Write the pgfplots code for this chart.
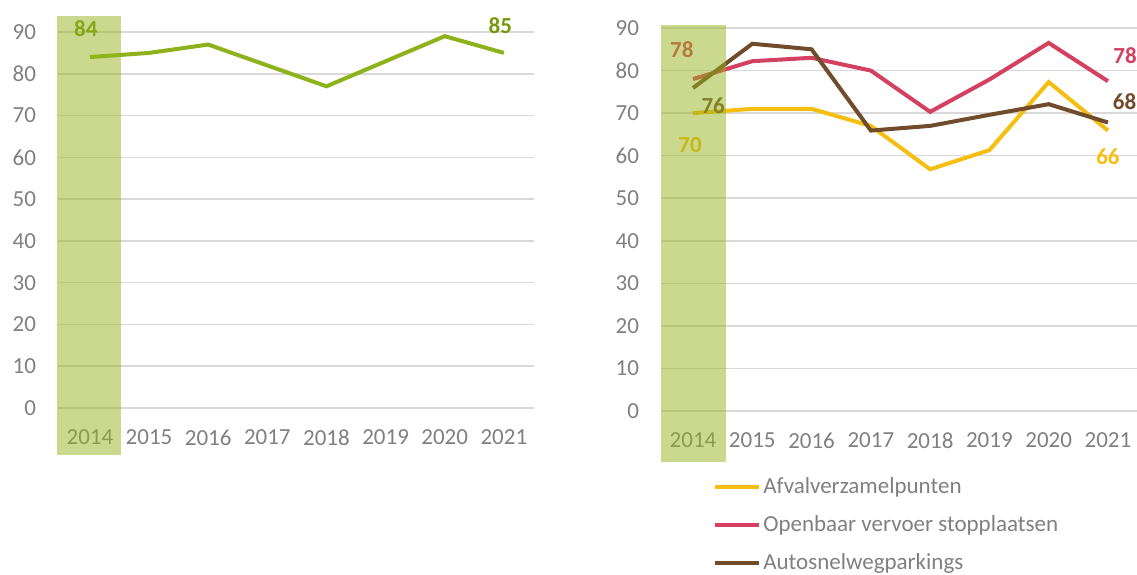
\documentclass[border=0pt]{standalone}
\usepackage{fontspec}
\setmainfont{Carlito}
\usepackage{pgfplots}
\pgfplotsset{compat=1.18}
\definecolor{lgreen}{RGB}{141,178,27}
\definecolor{labgreen}{RGB}{118,152,12}
\definecolor{bandcol}{RGB}{150,180,30}
\definecolor{cyellow}{RGB}{247,190,18}
\definecolor{cred}{RGB}{212,64,95}
\definecolor{cbrown}{RGB}{112,76,44}
\definecolor{tickgray}{RGB}{128,128,128}
\definecolor{gridgray}{RGB}{217,217,217}
\pgfplotsset{
  mybase/.style={
    scale only axis, width=238pt,
    xmin=-0.54, ymin=0, ymax=90,
    ytick={0,10,...,90}, xtick={0,1,2,3,4,5,6,7},
    xticklabels={2014,2015,2016,2017,2018,2019,2020,2021},
    axis line style={draw=none}, major tick length=0pt,
    ymajorgrids, grid style={gridgray, line width=0.8pt},
    tick label style={font=\fontsize{11.5}{13}\selectfont, text=tickgray},
    /pgf/number format/assume math mode=true,
    yticklabel style={xshift=-7.5pt},
    xticklabel style={yshift=-7.5pt},
    clip=false, set layers,
  }
}
\begin{document}
\begin{tikzpicture}
% Left chart
\begin{axis}[mybase, at={(29pt,83pt)}, anchor=south west, height=188pt, xmax=7.51]
\addplot[lgreen, line width=2pt] coordinates {(0,84)(1,85)(2,87)(3,82)(4,77)(5,83)(6,89)(7,85)};
\node[font=\fontsize{11.5}{13}\selectfont\bfseries, text=labgreen] at (axis cs:-0.07,90.9) {84};
\node[font=\fontsize{11.5}{13}\selectfont\bfseries, text=labgreen] at (axis cs:6.94,91.6) {85};
\begin{pgfonlayer}{axis foreground}
\fill[bandcol, fill opacity=0.5] (axis cs:-0.55,93.8) rectangle (axis cs:0.52,-11.2);
\end{pgfonlayer}
\end{axis}
% Right chart
\begin{axis}[mybase, at={(330.5pt,81.5pt)}, anchor=south west, height=191.5pt, xmax=7.49,
  legend style={at={(0.109,-0.168)}, anchor=north west, draw=none, fill=none,
    font=\fontsize{11.5}{13}\selectfont, text=tickgray, row sep=7.4pt, inner sep=0pt,
    nodes={inner sep=1pt}},
  legend cell align=left,
  legend image code/.code={\draw[#1, line width=2pt] (0pt,0pt) -- (22pt,0pt);}]
\addplot[cyellow, line width=2pt] coordinates {(0,70)(1,71)(2,71)(3,67)(4,56.8)(5,61.3)(6,77.3)(7,65.9)};
\addlegendentry{Afvalverzamelpunten}
\addplot[cred, line width=2pt] coordinates {(0,78)(1,82.2)(2,83)(3,80)(4,70.3)(5,77.9)(6,86.5)(7,77.5)};
\addlegendentry{Openbaar vervoer stopplaatsen}
\addplot[cbrown, line width=2pt] coordinates {(0,75.9)(1,86.3)(2,85)(3,65.9)(4,67)(5,69.6)(6,72.1)(7,67.8)};
\addlegendentry{Autosnelwegparkings}
\node[font=\fontsize{11.5}{13}\selectfont\bfseries, text=cred] at (axis cs:-0.19,84.8) {78};
\node[font=\fontsize{11.5}{13}\selectfont\bfseries, text=cbrown] at (axis cs:0.34,71.7) {76};
\node[font=\fontsize{11.5}{13}\selectfont\bfseries, text=cyellow] at (axis cs:-0.05,62.5) {70};
\node[font=\fontsize{11.5}{13}\selectfont\bfseries, text=cred] at (axis cs:7.29,83.4) {78};
\node[font=\fontsize{11.5}{13}\selectfont\bfseries, text=cbrown] at (axis cs:7.28,72.8) {68};
\node[font=\fontsize{11.5}{13}\selectfont\bfseries, text=cyellow] at (axis cs:7.0,59.7) {66};
\begin{pgfonlayer}{axis foreground}
\fill[bandcol, fill opacity=0.5] (axis cs:-0.54,90.7) rectangle (axis cs:0.56,-12);
\end{pgfonlayer}
\end{axis}
\pgfresetboundingbox
\useasboundingbox (0,0) rectangle (568.5pt,287pt);
\end{tikzpicture}
\end{document}
